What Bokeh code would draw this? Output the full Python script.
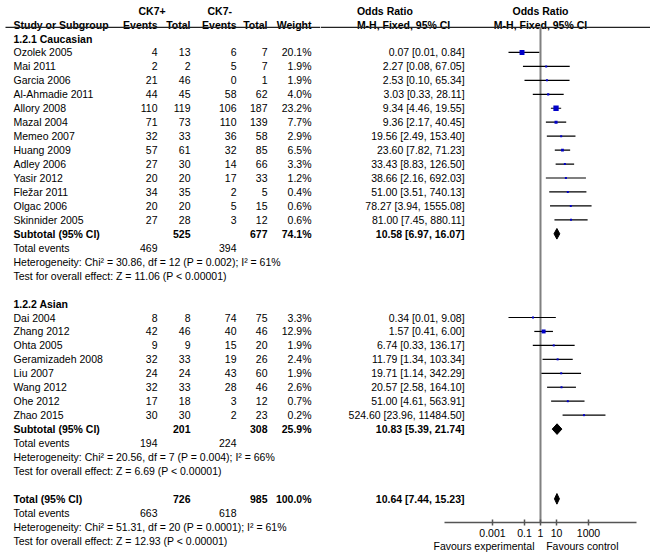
from bokeh.plotting import figure
from bokeh.models import Range1d, FixedTicker, CustomJSTickFormatter, Title
from bokeh.layouts import row
from bokeh.core.properties import value
from bokeh.embed import file_html
from bokeh.resources import INLINE

# ---------------- data ----------------
cauc_study = ["Ozolek 2005", "Mai  2011", "Garcia  2006", "Al-Ahmadie 2011", "Allory 2008",
              "Mazal 2004", "Memeo 2007", "Huang 2009", "Adley 2006", "Yasir 2012",
              "Fležar 2011", "Olgac 2006", "Skinnider  2005"]
cauc_ev_pos = [4, 2, 21, 44, 110, 71, 32, 57, 27, 20, 34, 20, 27]
cauc_tot_pos = [13, 2, 46, 45, 119, 73, 33, 61, 30, 20, 35, 20, 28]
cauc_ev_neg = [6, 5, 0, 58, 106, 110, 36, 32, 14, 17, 2, 5, 3]
cauc_tot_neg = [7, 7, 1, 62, 187, 139, 58, 85, 66, 33, 5, 15, 12]
cauc_weight = [20.1, 1.9, 1.9, 4.0, 23.2, 7.7, 2.9, 6.5, 3.3, 1.2, 0.4, 0.6, 0.6]
cauc_or = [0.07, 2.27, 2.53, 3.03, 9.34, 9.36, 19.56, 23.60, 33.43, 38.66, 51.00, 78.27, 81.00]
cauc_lo = [0.01, 0.08, 0.10, 0.33, 4.46, 2.17, 2.49, 7.82, 8.83, 2.16, 3.51, 3.94, 7.45]
cauc_hi = [0.84, 67.05, 65.34, 28.11, 19.55, 40.45, 153.40, 71.23, 126.50, 692.03, 740.13, 1555.08, 880.11]

asian_study = ["Dai 2004", "Zhang 2012", "Ohta 2005", "Geramizadeh 2008", "Liu 2007",
               "Wang 2012", "Ohe 2012", "Zhao 2015"]
asian_ev_pos = [8, 42, 9, 32, 24, 32, 17, 30]
asian_tot_pos = [8, 46, 9, 33, 24, 33, 18, 30]
asian_ev_neg = [74, 40, 15, 19, 43, 28, 3, 2]
asian_tot_neg = [75, 46, 20, 26, 60, 46, 12, 23]
asian_weight = [3.3, 12.9, 1.9, 2.4, 1.9, 2.6, 0.7, 0.2]
asian_or = [0.34, 1.57, 6.74, 11.79, 19.71, 20.57, 51.00, 524.60]
asian_lo = [0.01, 0.41, 0.33, 1.34, 1.14, 2.58, 4.61, 23.96]
asian_hi = [9.08, 6.00, 136.17, 103.34, 342.29, 164.10, 563.91, 11484.50]

group_names = ["1.2.1 Caucasian", "1.2.2 Asian"]
sub_tot_pos = [525, 201]
sub_tot_neg = [677, 308]
sub_ev_pos = [469, 194]
sub_ev_neg = [394, 224]
sub_weight = [74.1, 25.9]
sub_or = [10.58, 10.83]
sub_lo = [6.97, 5.39]
sub_hi = [16.07, 21.74]
sub_het = ["Heterogeneity: Chi² = 30.86, df = 12 (P = 0.002); I² = 61%",
           "Heterogeneity: Chi² = 20.56, df = 7 (P = 0.004); I² = 66%"]
sub_test = ["Test for overall effect: Z = 11.06 (P < 0.00001)",
            "Test for overall effect: Z = 6.69 (P < 0.00001)"]

total_tot_pos = 726
total_tot_neg = 985
total_ev_pos = 663
total_ev_neg = 618
total_weight = 100.0
total_or = 10.64
total_lo = 7.44
total_hi = 15.23
total_het = "Heterogeneity: Chi² = 51.31, df = 20 (P = 0.0001); I² = 61%"
total_test = "Test for overall effect: Z = 12.93 (P < 0.00001)"

axis_ticks = [0.001, 0.1, 1, 10, 1000]
fav_left = "Favours experimental"
fav_right = "Favours control"

# ---------------- layout constants ----------------
FONT = value("Liberation Sans")
FS = "10.5px"
LEFT_W, RIGHT_W, H = 320, 330, 558
ROW_PX = 13.95
ROW0_PX = 38.0
AXIS_PX = 522
Y_TOP = -ROW0_PX / ROW_PX
Y_BOT_LEFT = Y_TOP + H / ROW_PX
Y_BOT_RIGHT = Y_TOP + AXIS_PX / ROW_PX
DEC_PX = 16.0
X1_PX = 540.0
LOG_RANGE = (10 ** ((LEFT_W - X1_PX) / DEC_PX), 10 ** ((LEFT_W + RIGHT_W - X1_PX) / DEC_PX))
PX_RANGE = (LEFT_W, LEFT_W + RIGHT_W)
SQ_COLOR = "#0000c8"

X_LABEL = 13
X_EVP, X_TOTP, X_EVN, X_TOTN, X_W, X_OR = 157, 190, 236, 267, 311, 436
X_CK7P, X_CK7N, X_ORH = 138, 207, 346
X_FAV = 433
HEADER_LINE = -0.8

left = figure(width=LEFT_W, height=H, x_range=Range1d(0, LEFT_W), y_range=Range1d(Y_BOT_LEFT, Y_TOP),
              output_backend="svg", toolbar_location=None, min_border=0, frame_align=False)
right = figure(width=RIGHT_W, height=H, x_range=Range1d(*LOG_RANGE), y_range=Range1d(Y_BOT_RIGHT, Y_TOP),
               x_axis_type="log", extra_x_ranges={"px": Range1d(*PX_RANGE)},
               output_backend="svg", toolbar_location=None,
               min_border_left=0, min_border_right=0, min_border_top=0,
               min_border_bottom=H - AXIS_PX, frame_align=False)
for p in (left, right):
    p.yaxis.visible = False
    p.xgrid.visible = False
    p.ygrid.visible = False
    p.outline_line_color = None
    p.background_fill_color = "white"
    p.border_fill_color = "white"
left.xaxis.visible = False


def txt(p, xs, ys, texts, align="left", bold=False, **kw):
    p.text(x=xs, y=ys, text=texts, text_align=align, text_baseline="middle",
           text_font=FONT, text_font_size=FS, text_color="black",
           text_font_style="bold" if bold else "normal", **kw)


def rtxt(xs, ys, texts, align="left", bold=False):
    txt(right, xs, ys, texts, align=align, bold=bold, x_range_name="px")


def ci_text(o, l, h):
    return f"{o:.2f} [{l:.2f}, {h:.2f}]"


# headers
txt(left, [X_CK7P, X_CK7N], [-2, -2], ["CK7+", "CK7-"], bold=True)
txt(left, [X_LABEL], [-1], ["Study or Subgroup"], bold=True)
txt(left, [X_EVP, X_TOTP, X_EVN, X_TOTN, X_W], [-1] * 5,
    ["Events", "Total", "Events", "Total", "Weight"], align="right", bold=True)
rtxt([X_ORH, X_ORH], [-2, -1], ["Odds Ratio", "M-H, Fixed, 95% CI"], bold=True)
txt(right, [1, 1], [-2, -1], ["Odds Ratio", "M-H, Fixed, 95% CI"], align="center", bold=True)
left.segment(x0=[5], x1=[LEFT_W], y0=[HEADER_LINE], y1=[HEADER_LINE], line_color="#222222", line_width=1.3)
right.segment(x0=[PX_RANGE[0]], x1=[PX_RANGE[1]], y0=[HEADER_LINE], y1=[HEADER_LINE],
              line_color="#222222", line_width=1.3, x_range_name="px")
right.segment(x0=[1], x1=[1], y0=[HEADER_LINE], y1=[Y_BOT_RIGHT], line_color="#808080", line_width=2)

groups = [
    (cauc_study, cauc_ev_pos, cauc_tot_pos, cauc_ev_neg, cauc_tot_neg, cauc_weight, cauc_or, cauc_lo, cauc_hi),
    (asian_study, asian_ev_pos, asian_tot_pos, asian_ev_neg, asian_tot_neg, asian_weight, asian_or, asian_lo, asian_hi),
]

DIAMOND_H = 0.38


def diamond(o, l, h, r):
    right.patch(x=[l, o, h, o], y=[r, r - DIAMOND_H, r, r + DIAMOND_H], fill_color="black", line_color="black")


r0 = 0
for gi, g in enumerate(groups):
    study, evp, totp, evn, totn, w, orv, lo, hi = g
    n = len(study)
    txt(left, [X_LABEL], [r0], [group_names[gi]], bold=True)
    ys = [r0 + 1 + i for i in range(n)]
    txt(left, [X_LABEL] * n, ys, study)
    txt(left, [X_EVP] * n, ys, [str(v) for v in evp], align="right")
    txt(left, [X_TOTP] * n, ys, [str(v) for v in totp], align="right")
    txt(left, [X_EVN] * n, ys, [str(v) for v in evn], align="right")
    txt(left, [X_TOTN] * n, ys, [str(v) for v in totn], align="right")
    txt(left, [X_W] * n, ys, [f"{v:.1f}%" for v in w], align="right")
    rtxt([X_OR] * n, ys, [ci_text(a, b, c) for a, b, c in zip(orv, lo, hi)], align="right")
    right.segment(x0=lo, x1=hi, y0=ys, y1=ys, line_color="black", line_width=1.2)
    right.scatter(x=orv, y=ys, marker="square", size=[max(2.0, 1.1 * v ** 0.5) for v in w],
                  fill_color=SQ_COLOR, line_color=SQ_COLOR, line_width=0)
    rs = r0 + n + 1
    txt(left, [X_LABEL], [rs], ["Subtotal (95% CI)"], bold=True)
    txt(left, [X_TOTP, X_TOTN, X_W], [rs] * 3,
        [str(sub_tot_pos[gi]), str(sub_tot_neg[gi]), f"{sub_weight[gi]:.1f}%"], align="right", bold=True)
    rtxt([X_OR], [rs], [ci_text(sub_or[gi], sub_lo[gi], sub_hi[gi])], align="right", bold=True)
    diamond(sub_or[gi], sub_lo[gi], sub_hi[gi], rs)
    txt(left, [X_LABEL], [rs + 1], ["Total events"])
    txt(left, [X_EVP, X_EVN], [rs + 1, rs + 1], [str(sub_ev_pos[gi]), str(sub_ev_neg[gi])], align="right")
    txt(left, [X_LABEL, X_LABEL], [rs + 2, rs + 3], [sub_het[gi], sub_test[gi]])
    r0 = rs + 5

rt = r0
txt(left, [X_LABEL], [rt], ["Total (95% CI)"], bold=True)
txt(left, [X_TOTP, X_TOTN, X_W], [rt] * 3,
    [str(total_tot_pos), str(total_tot_neg), f"{total_weight:.1f}%"], align="right", bold=True)
rtxt([X_OR], [rt], [ci_text(total_or, total_lo, total_hi)], align="right", bold=True)
diamond(total_or, total_lo, total_hi, rt)
txt(left, [X_LABEL], [rt + 1], ["Total events"])
txt(left, [X_EVP, X_EVN], [rt + 1, rt + 1], [str(total_ev_pos), str(total_ev_neg)], align="right")
txt(left, [X_LABEL, X_LABEL], [rt + 2, rt + 3], [total_het, total_test])

# axis
ax = right.xaxis[0]
ax.ticker = FixedTicker(ticks=axis_ticks)
ax.bounds = (1e-6, 1e6)
ax.formatter = CustomJSTickFormatter(code="return tick.toString();")
ax.axis_line_color = "#555555"
ax.axis_line_width = 1.5
ax.major_tick_line_color = "#555555"
ax.major_tick_line_width = 1.5
ax.major_tick_in = 3
ax.major_tick_out = 3
ax.minor_tick_line_color = None
ax.major_label_standoff = 3
ax.major_label_text_font = "Liberation Sans"
ax.major_label_text_font_size = FS
ax.major_label_text_color = "black"

NBSP = "\u00a0"
right.add_layout(Title(text=fav_left + NBSP * 4 + fav_right, align="left", offset=X_FAV - LEFT_W,
                       standoff=-3, text_font="Liberation Sans", text_font_size=FS,
                       text_font_style="normal", text_color="black"), "below")

layout = row(left, right, spacing=0)
open("out.html", "w").write(file_html(layout, INLINE))
